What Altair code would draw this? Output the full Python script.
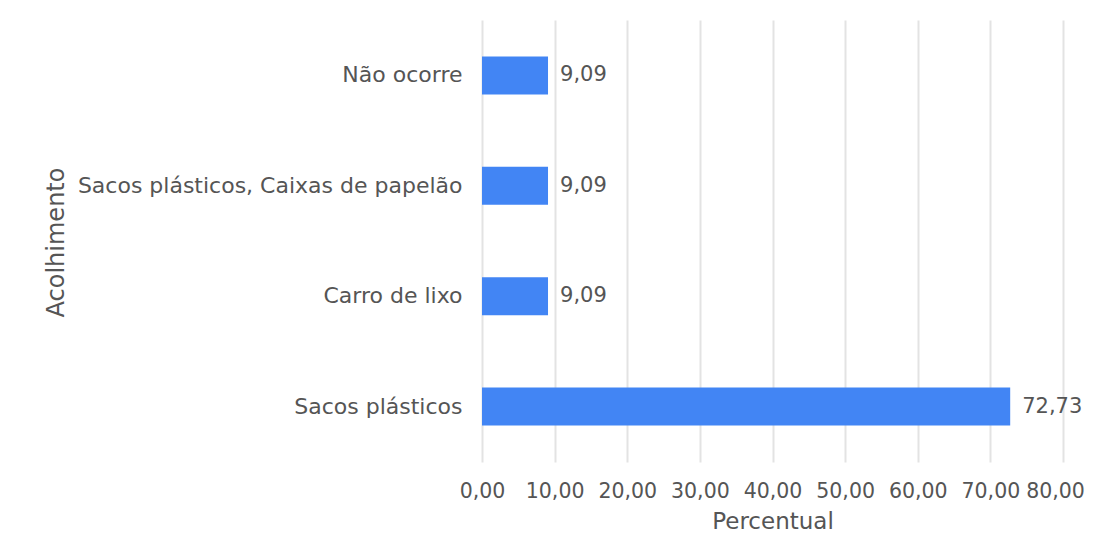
import altair as alt
import pandas as pd

categories = ["Não ocorre", "Sacos plásticos, Caixas de papelão", "Carro de lixo", "Sacos plásticos"]
values = [9.09, 9.09, 9.09, 72.73]
labels = ["9,09", "9,09", "9,09", "72,73"]
x_ticks = [0, 10, 20, 30, 40, 50, 60, 70, 80]

df = pd.DataFrame({"cat": categories, "val": values, "lab": labels})

FONT = "DejaVu Sans"
GRAY = "#555555"

base = alt.Chart(df).encode(
    y=alt.Y("cat:N", sort=categories,
            scale=alt.Scale(paddingInner=0.655, paddingOuter=0.33),
            axis=alt.Axis(title="Acolhimento", labelFont=FONT, labelFontSize=22,
                          labelColor=GRAY, labelPadding=20, ticks=False, domain=False,
                          labelLimit=500, titleFont=FONT, titleFontSize=24,
                          titleColor=GRAY, titleFontWeight="normal",
                          titleX=-426, titleY=222, titleBaseline="middle",
                          titleAlign="center", titleAngle=270))
)

bars = base.mark_bar(color="#4285F4").encode(
    x=alt.X("val:Q", scale=alt.Scale(domain=[0, 80], nice=False),
            axis=alt.Axis(title="Percentual", values=x_ticks,
                          labelExpr="replace(format(datum.value, '.2f'), '.', ',')",
                          labelFont=FONT, labelFontSize=20.5, labelColor=GRAY,
                          labelPadding=19, labelOverlap=False, labelFlush=False,
                          labelOffset={"expr": "datum.value == 80 ? -8 : 0"},
                          ticks=False, domain=False,
                          gridColor="#e3e3e3", gridWidth=2,
                          titleFont=FONT, titleFontSize=23, titleColor=GRAY,
                          titleFontWeight="normal", titleY=59,
                          titleBaseline="middle"))
)

text = base.mark_text(align="left", dx=12, font=FONT, fontSize=21, color=GRAY).encode(
    x="val:Q", text="lab:N"
)

chart = (bars + text).properties(
    width=581, height=442,
    padding={"left": 474, "top": 12, "right": 22, "bottom": 70},
    autosize=alt.AutoSizeParams(type="none"),
).configure_view(stroke=None)

chart.save("out.html", embed_options={"renderer": "svg", "actions": False})
